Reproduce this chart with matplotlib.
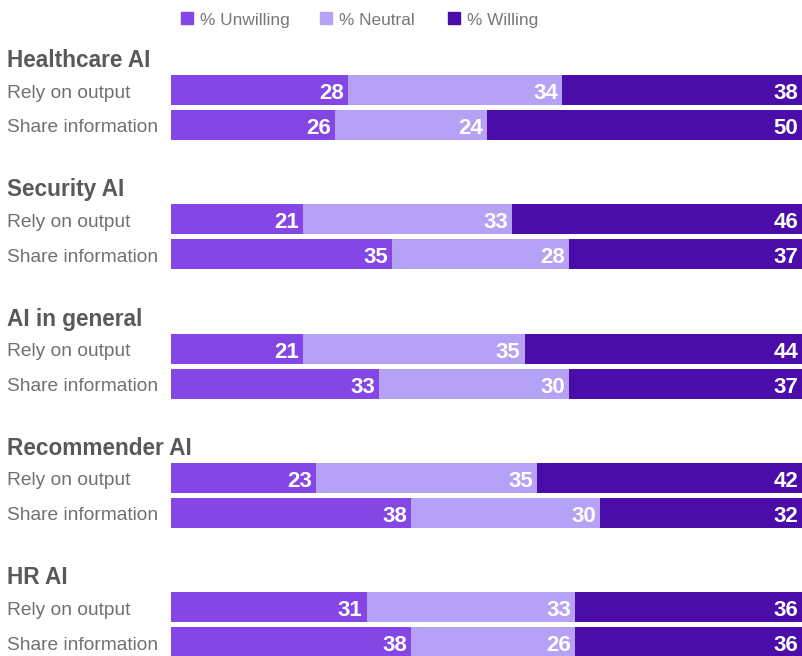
import matplotlib
matplotlib.use("Agg")
import matplotlib.pyplot as plt
from matplotlib.patches import Rectangle

plt.rcParams['font.family'] = ['Liberation Sans', 'DejaVu Sans']

groups = ["Healthcare AI", "Security AI", "AI in general", "Recommender AI", "HR AI"]
rows = ["Rely on output", "Share information"]
unwilling = [[28, 26], [21, 35], [21, 33], [23, 38], [31, 38]]
neutral = [[34, 24], [33, 28], [35, 30], [35, 30], [33, 26]]
willing = [[38, 50], [46, 37], [44, 37], [42, 32], [36, 36]]
series_names = ["% Unwilling", "% Neutral", "% Willing"]
colors = ["#8446E4", "#B5A1F6", "#4A0DAA"]

W, H = 803, 656
fig = plt.figure(figsize=(W / 100, H / 100), dpi=100)
ax = fig.add_axes([0, 0, 1, 1])
px = 632 / 100.0  # pixels per unit
x0 = -171 / px
ax.set_xlim(x0, 100.1)
ax.set_ylim(H, 0)
ax.axis("off")

group_step = 129.3
row_step = 35
bar_h = 30
first_center = 90

for gi, g in enumerate(groups):
    base = first_center + gi * group_step
    ax.text(x0 + 7 / px, base - 32, g, fontsize=16.3, fontweight="bold",
            color="#595959", va="center_baseline", ha="left")
    for ri, r in enumerate(rows):
        yc = base + ri * row_step
        ax.text(x0 + 7 / px, yc + 1, r, fontsize=13.8, color="#707070",
                va="center_baseline", ha="left")
        vals = [unwilling[gi][ri], neutral[gi][ri], willing[gi][ri]]
        left = 0
        for v, c in zip(vals, colors):
            ax.barh(yc, v, left=left, height=bar_h, color=c, linewidth=0)
            ax.text(left + v - 4 / px, yc + 1, str(v), fontsize=16,
                    fontweight="bold", color="white", va="center_baseline", ha="right")
            left += v

# legend
lx = [181, 320, 448]
for name, c, x in zip(series_names, colors, lx):
    fig.patches.append(Rectangle((x / W, 1 - 24 / H), 12 / W, 12 / H,
                                 transform=fig.transFigure, color=c))
    fig.text((x + 19) / W, 1 - 19 / H, name, fontsize=12.4, color="#777777",
             va="center_baseline", ha="left")

fig.savefig("out.png", dpi=100)
